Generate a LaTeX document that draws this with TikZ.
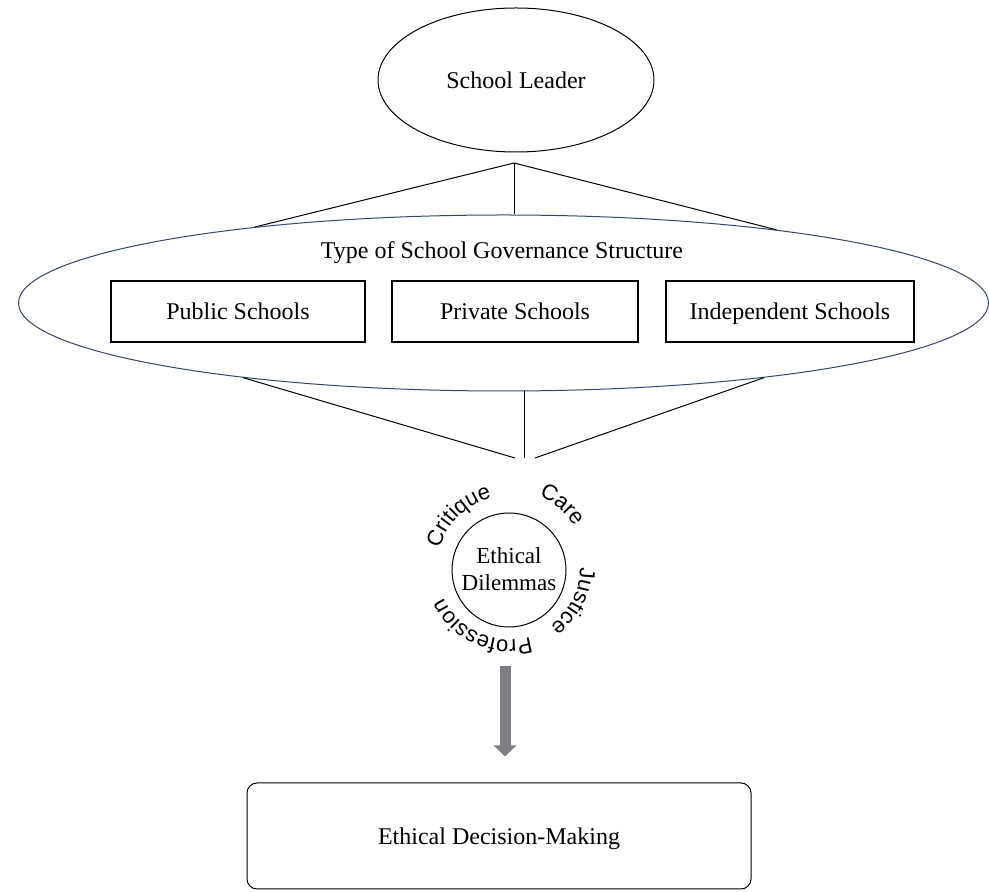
\documentclass[tikz,border=0pt]{standalone}
\usepackage{fontspec}
\setmainfont{Liberation Serif}
\setsansfont{Liberation Sans}
\usetikzlibrary{shapes.geometric,arrows.meta,decorations.text,calc}

\definecolor{govblue}{HTML}{34456B}
\definecolor{arrowgray}{HTML}{7E7F84}
\newcommand\ringfont{\sffamily\fontsize{22}{26}\selectfont}

\begin{document}
\begin{tikzpicture}[x=1pt,y=1pt,
  lbl/.style={font=\fontsize{24}{27}\selectfont},
  oval/.style={ellipse, draw=black, line width=1pt, inner sep=0pt, lbl},
  govoval/.style={ellipse, draw=govblue, line width=1pt, inner sep=0pt},
  schoolbox/.style={rectangle, draw=black, line width=1.1pt, minimum height=61pt, inner sep=0pt, lbl,
    text height=21.4pt, text depth=5pt},
  link/.style={draw=black, line width=1pt},
  ringword/.style={decorate, decoration={text along path, text align=center, text={|\ringfont|#1}}},
  bigarrow/.style={draw=arrowgray, line width=11pt, -{Triangle[width=22pt,length=11pt]}},
  outcome/.style={rectangle, rounded corners=10pt, draw=black, line width=1pt, lbl,
    minimum width=504pt, minimum height=106pt, text height=22pt, text depth=4pt}
]
\useasboundingbox (0,0) rectangle (989,892);

% top node
\node[oval, minimum width=276pt, minimum height=144pt] (leader) at (516,812) {School Leader};

% governance structure
\node[govoval, minimum width=970pt, minimum height=176pt] (gov) at (503.5,589) {};
\node[lbl, anchor=base] (govtitle) at (502,633) {Type of School Governance Structure};
\node[schoolbox, minimum width=254pt] (public) at (238,580.5) {Public Schools};
\node[schoolbox, minimum width=246pt] (private) at (515,580.5) {Private Schools};
\node[schoolbox, minimum width=248pt] (independent) at (790,580.5) {Independent Schools};

% branching from the leader
\coordinate (apex) at (514,729);
\draw[link] (apex) -- (gov.163.3);
\draw[link] (apex) -- (apex |- gov.north);
\draw[link] (apex) -- (gov.15.5);

% ethical dilemmas with the four lenses round it
\node[circle, draw=black, line width=1pt, minimum size=114pt, inner sep=0pt, align=center,
  font=\fontsize{23}{27}\selectfont, text depth=1pt] (dil) at (509,322) {Ethical\\Dilemmas};

\coordinate (lowL) at (515,434);
\coordinate (lowM) at (524,434);
\coordinate (lowR) at (535,434);
\draw[link] (gov.196.2) -- (lowL);
\draw[link] (lowM |- gov.south) -- (lowM);
\draw[link] (gov.-16) -- (lowR);

\coordinate (ring) at ($(dil.center)+(0,2)$);
\path[ringword=Critique] ($(ring)+(189:72)$) arc[start angle=189, end angle=79, radius=72];
\path[ringword=Care] ($(ring)+(105:78)$) arc[start angle=105, end angle=-5, radius=78];
\path[ringword=Justice] ($(ring)+(33:71)$) arc[start angle=33, end angle=-87, radius=71];
\path[ringword=Profession] ($(ring)+(-49:72)$) arc[start angle=-49, end angle=-179, radius=72];

% outcome
\node[outcome] (decision) at (499,56) {Ethical Decision-Making};
\draw[bigarrow, shorten <=39pt, shorten >=26pt]
  ([xshift=-4pt]dil.south) -- ([xshift=-4pt]dil.south |- decision.north);
\end{tikzpicture}
\end{document}
